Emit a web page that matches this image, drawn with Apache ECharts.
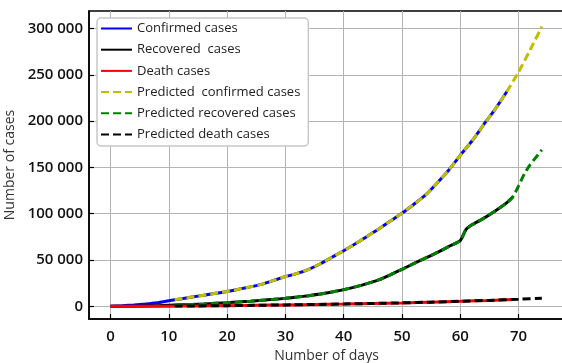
<!DOCTYPE html>
<html>
<head>
<meta charset="utf-8">
<script src="https://cdn.jsdelivr.net/npm/echarts@6/dist/echarts.min.js"></script>
<style>html,body{margin:0;padding:0;background:#fff}#c{width:562px;height:363px}</style>
</head>
<body>
<div id="c"></div>
<script>
// ---- data ----
const xTicks = [0, 10, 20, 30, 40, 50, 60, 70];
const yTicks = [0, 50000, 100000, 150000, 200000, 250000, 300000];

const confirmedCases = [
  [0,200],[2,700],[4,1400],[6,2400],[8,3800],[10,6000],[12,8000],[14,10000],[16,12000],[18,14000],
  [20,16000],[22,18500],[24,21000],[26,24000],[28,28000],[30,32000],[32,35500],[34,40000],[36,46000],
  [38,53000],[40,60000],[42,67500],[44,75500],[46,83500],[48,92000],[50,100500],[52,110000],[54,120000],
  [56,133000],[58,147000],[60,163000],[62,178500],[64,196000],[66,213000],[68,232000]
];
const recoveredCases = [
  [0,0],[2,100],[4,200],[6,400],[8,700],[10,1200],[12,1600],[14,2000],[16,2500],[18,3200],[20,3900],
  [22,4700],[24,5500],[26,6500],[28,7500],[30,8600],[32,10000],[34,11500],[36,13200],[38,15500],
  [40,18000],[42,21000],[44,24500],[46,28500],[48,34000],[50,40000],[52,46000],[54,52000],[56,58000],
  [58,64500],[60,71000],[61,83000],[62,88000],[64,95000],[66,103000],[68,112000],[69,118000]
];
const deathCases = [
  [0,0],[5,100],[10,200],[15,400],[20,700],[25,1100],[30,1500],[35,2000],[40,2500],[45,3100],
  [50,3700],[55,4500],[60,5400],[65,6400],[69,7300]
];
const predictedConfirmed = [
  [11,7000],[12,8000],[14,10000],[16,12000],[18,14000],[20,16000],[22,18500],[24,21000],[26,24000],
  [28,28000],[30,32000],[32,35500],[34,40000],[36,46000],[38,53000],[40,60000],[42,67500],[44,75500],
  [46,83500],[48,92000],[50,100500],[52,110000],[54,120000],[56,133000],[58,147000],[60,163000],
  [62,178500],[64,196000],[66,213000],[68,232000],[70,253000],[72,277000],[74,302000]
];
const predictedRecovered = [
  [11,1400],[12,1600],[14,2000],[16,2500],[18,3200],[20,3900],[22,4700],[24,5500],[26,6500],[28,7500],
  [30,8600],[32,10000],[34,11500],[36,13200],[38,15500],[40,18000],[42,21000],[44,24500],[46,28500],
  [48,34000],[50,40000],[52,46000],[54,52000],[56,58000],[58,64500],[60,71000],[61,83000],[62,88000],
  [64,95000],[66,103000],[68,112000],[69,118000],[70,130000],[71,143000],[72,153000],[73,161000],[74,169000]
];
const predictedDeath = [
  [11,220],[15,400],[20,700],[25,1100],[30,1500],[35,2000],[40,2500],[45,3100],[50,3700],[55,4500],
  [60,5400],[65,6400],[70,7600],[74,8700]
];
const seriesNames = ['Confirmed cases', 'Recovered  cases', 'Death cases',
  'Predicted  confirmed cases', 'Predicted recovered cases', 'Predicted death cases'];

// ---- chart ----
const FONT = 'Open Sans';
function thousands(v) { return String(v).replace(/\B(?=(\d{3})+(?!\d))/g, ' '); }
function line(name, data, color, dashed) {
  return {
    name: name, type: 'line', data: data, symbol: 'none', showSymbol: false,
    smooth: 0.2, animation: false,
    lineStyle: { color: color, width: 3, type: dashed ? [8, 4] : 'solid', cap: 'butt' },
    itemStyle: { color: color }
  };
}
const chart = echarts.init(document.getElementById('c'), null, { renderer: 'canvas' });
chart.setOption({
  animation: false,
  backgroundColor: '#fff',
  grid: { left: 89, top: 11, right: -2, bottom: 44, outerBoundsMode: 'none', containLabel: false,
          show: true, borderColor: '#000', borderWidth: 1.5, backgroundColor: 'transparent' },
  legend: {
    orient: 'vertical', left: 97, top: 18,
    padding: [4, 8, 5, 3],
    itemWidth: 31, itemHeight: 14, itemGap: 8.2,
    itemStyle: { opacity: 0 },
    backgroundColor: '#fff', borderColor: '#c8c8c8', borderWidth: 1.5, borderRadius: 4,
    textStyle: { fontFamily: FONT, fontSize: 13, color: '#222' },
    data: seriesNames
  },
  xAxis: {
    type: 'value', min: -3.7, max: 77.8,
    name: 'Number of days', nameLocation: 'middle', nameGap: 28,
    nameTextStyle: { fontFamily: FONT, fontSize: 14, color: '#333' },
    axisLine: { show: true, onZero: false, lineStyle: { color: '#000', width: 1.5 } },
    axisTick: { show: true, inside: true, length: 5, customValues: xTicks, lineStyle: { color: '#000', width: 1.2 } },
    axisLabel: { customValues: xTicks, margin: 10, fontFamily: FONT, fontSize: 15, fontWeight: 600, color: '#111' },
    splitLine: { show: true, lineStyle: { color: '#b4b4b4', width: 1 } }
  },
  yAxis: {
    type: 'value', min: -13700, max: 318900,
    name: 'Number of cases', nameLocation: 'middle', nameGap: 62,
    nameTextStyle: { fontFamily: FONT, fontSize: 14, color: '#333' },
    axisLine: { show: true, onZero: false, lineStyle: { color: '#000', width: 1.5 } },
    axisTick: { show: true, inside: true, length: 5, customValues: yTicks, lineStyle: { color: '#000', width: 1.2 } },
    axisLabel: { customValues: yTicks, margin: 6, fontFamily: FONT, fontSize: 15, fontWeight: 600, color: '#111', formatter: thousands },
    splitLine: { show: true, lineStyle: { color: '#b4b4b4', width: 1 } }
  },
  series: [
    line(seriesNames[0], confirmedCases, '#0000ff', false),
    line(seriesNames[1], recoveredCases, '#000000', false),
    line(seriesNames[2], deathCases, '#ff0000', false),
    line(seriesNames[3], predictedConfirmed, '#bfbf00', true),
    line(seriesNames[4], predictedRecovered, '#008000', true),
    line(seriesNames[5], predictedDeath, '#000000', true)
  ]
});
</script>
</body>
</html>
